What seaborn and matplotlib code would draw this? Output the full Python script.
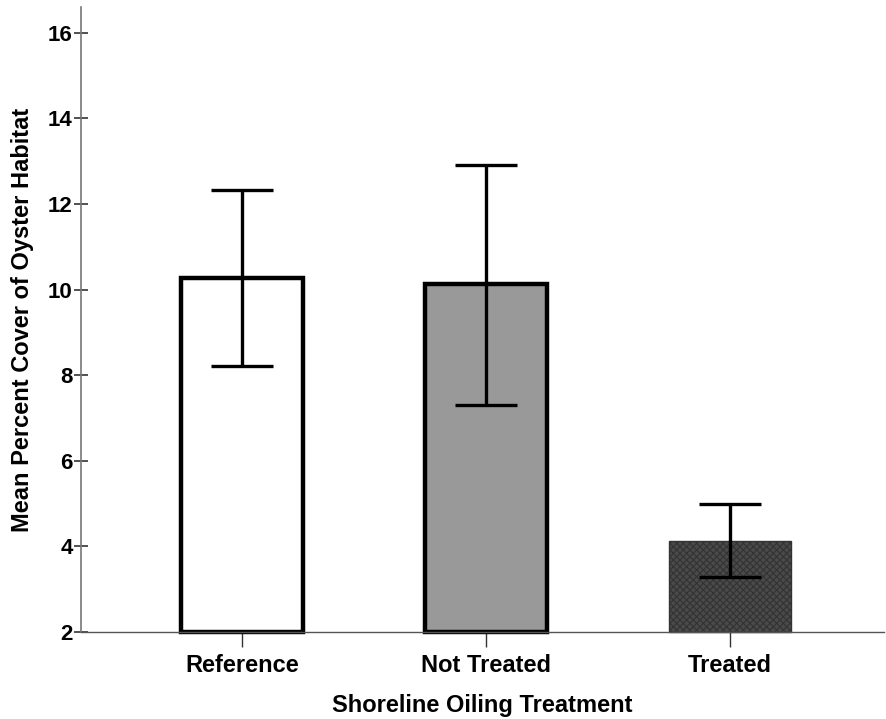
import seaborn as sns
import pandas as pd
import matplotlib.pyplot as plt

# values
treatments = ['Reference', 'Not Treated', 'Treated']
mean_cover = [10.27, 10.13, 4.12]
err_low = [8.22, 7.31, 3.29]
err_high = [12.33, 12.91, 5.0]

df = pd.DataFrame({'treatment': treatments, 'cover': mean_cover})

sns.set_style('ticks')
plt.rcParams['font.family'] = ['Liberation Sans', 'DejaVu Sans']
plt.rcParams['text.color'] = 'black'
plt.rcParams['axes.labelcolor'] = 'black'
plt.rcParams['hatch.color'] = 'black'
plt.rcParams['hatch.linewidth'] = 0.8

fig = plt.figure(figsize=(8.86, 7.19), dpi=100)
ax = fig.add_axes([0.0914, 0.121, 0.9063, 0.869])

sns.barplot(data=df, x='treatment', y='cover', errorbar=None, width=0.5,
            color='white', ax=ax)

# bar styles
fills = ['white', '#999999', '#4a4a4a']
edges = ['black', 'black', '#333333']
widths = [3.2, 3.2, 1.0]
base = 2
for patch, fc, ec, lw in zip(ax.patches, fills, edges, widths):
    h = patch.get_height()
    patch.set_y(base)
    patch.set_height(h - base)
    patch.set_facecolor(fc)
    patch.set_edgecolor(ec)
    patch.set_linewidth(lw)
    patch.set_clip_on(False)
ax.patches[2].set_hatch('xxxxx')

# error bars
lower = [m - l for m, l in zip(mean_cover, err_low)]
upper = [h - m for m, h in zip(mean_cover, err_high)]
ax.errorbar(range(len(treatments)), mean_cover, yerr=[lower, upper], fmt='none',
            ecolor='black', elinewidth=2.4, capsize=22, capthick=2.4, zorder=5)

ax.set_xlim(-0.66, 2.63)
ax.set_ylim(2, 16.6)
ax.set_yticks([2, 4, 6, 8, 10, 12, 14, 16])

sns.despine(ax=ax)
ax.spines['left'].set_color('#777777')
ax.spines['left'].set_linewidth(1.2)
ax.spines['bottom'].set_color('#555555')
ax.spines['bottom'].set_linewidth(1.0)

ax.tick_params(axis='y', direction='inout', length=10, width=1.2, color='#333333',
               labelsize=16, labelcolor='black', pad=1)
ax.tick_params(axis='x', direction='out', length=11, width=1.0, color='#333333',
               labelsize=17, labelcolor='black', pad=5)
for lbl in ax.get_xticklabels() + ax.get_yticklabels():
    lbl.set_fontweight('bold')

ax.set_xlabel('Shoreline Oiling Treatment', fontsize=17, fontweight='bold', labelpad=12)
ax.set_ylabel('Mean Percent Cover of Oyster Habitat', fontsize=17, fontweight='bold',
              labelpad=10)

fig.savefig('out.png', dpi=100)
